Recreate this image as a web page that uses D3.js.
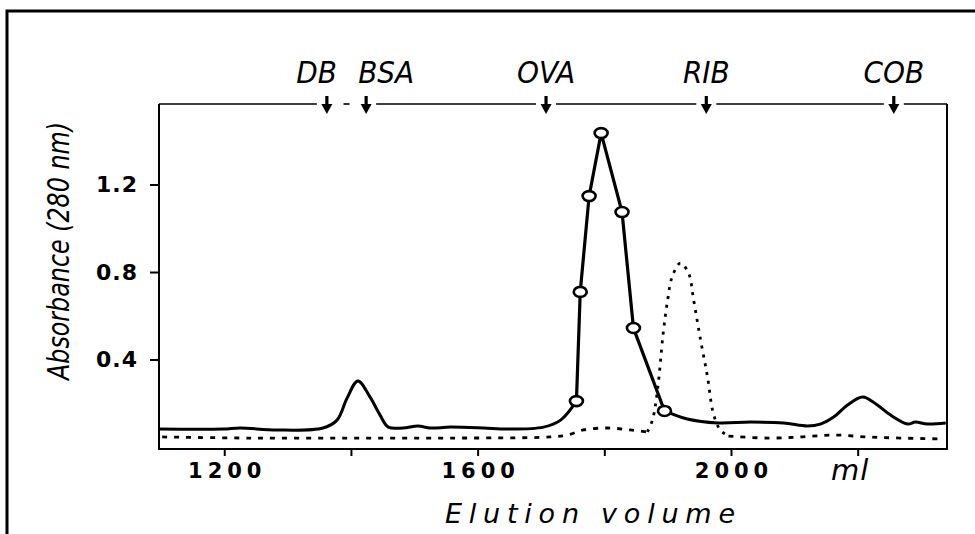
<!DOCTYPE html>
<html>
<head>
<meta charset="utf-8">
<script src="https://cdn.jsdelivr.net/npm/d3@7"></script>
<style>
  body { margin: 0; background: #fff; }
  svg { display: block; }
  .tick text { fill: #000; }
</style>
</head>
<body>
<svg width="975" height="534"></svg>
<script>
// elution volume (ml) / absorbance
const traceBeforeX = [1097, 1198, 1225, 1283, 1356, 1378, 1394, 1411, 1430, 1446, 1459, 1482, 1506, 1525, 1557, 1609, 1647, 1704, 1731, 1756]
const traceBeforeY = [0.082, 0.082, 0.087, 0.078, 0.087, 0.123, 0.224, 0.302, 0.229, 0.146, 0.091, 0.087, 0.096, 0.087, 0.091, 0.087, 0.082, 0.091, 0.123, 0.210]

const fractionX = [1756, 1762, 1776, 1795, 1828, 1846, 1895]
const fractionY = [0.210, 0.709, 1.147, 1.435, 1.074, 0.544, 0.165]

const traceAfterX = [1895, 1931, 1979, 2031, 2083, 2121, 2141, 2162, 2184, 2208, 2231, 2252, 2279, 2291, 2310, 2339]
const traceAfterY = [0.165, 0.128, 0.110, 0.114, 0.110, 0.096, 0.105, 0.137, 0.192, 0.229, 0.192, 0.146, 0.105, 0.114, 0.105, 0.110]

const dottedX = [1102, 1241, 1399, 1557, 1715, 1742, 1767, 1806, 1841, 1868, 1876, 1884, 1893, 1900, 1907, 1920, 1933, 1941, 1952, 1963, 1972, 1983, 1996, 2058, 2110, 2162, 2215, 2268, 2331]
const dottedY = [0.046, 0.041, 0.041, 0.041, 0.046, 0.055, 0.078, 0.087, 0.078, 0.069, 0.123, 0.261, 0.521, 0.672, 0.777, 0.841, 0.795, 0.672, 0.489, 0.320, 0.155, 0.078, 0.050, 0.041, 0.046, 0.055, 0.046, 0.041, 0.037]

// marker proteins
const markerNames = ['DB', 'BSA', 'OVA', 'RIB', 'COB']
const markerX = [1362, 1424, 1708, 1961, 2257]

const xTicks = [1200, 1400, 1600, 1800, 2000, 2200]
const xTickLabels = ['1200', '', '1600', '', '2000', 'ml']
const yTicks = [0.4, 0.8, 1.2]
const yTickLabels = ['0.4', '0.8', '1.2']

const zip = (xs, ys) => xs.map((v, i) => [v, ys[i]])

const svg = d3.select('svg')

const pLeft = 159, pRight = 947, pTop = 104, pBottom = 449

const x = d3.scaleLinear().domain([1097, 2341]).range([pLeft, pRight])
const y = d3.scaleLinear().domain([-0.009, 1.568]).range([pBottom, pTop])

// outer border, cut off on the right and bottom
svg.append('rect')
    .attr('x', 7).attr('y', 11)
    .attr('width', 1000).attr('height', 600)
    .attr('fill', 'none').attr('stroke', '#000').attr('stroke-width', 3)

// axes
const xAxis = svg.append('g')
    .attr('transform', `translate(0, ${pBottom})`)
    .call(d3.axisBottom(x).tickValues(xTicks).tickSize(7).tickSizeOuter(0)
        .tickFormat((d, i) => xTickLabels[i]))
xAxis.select('.domain').remove()
xAxis.selectAll('line').attr('stroke', '#000').attr('stroke-width', 2)
xAxis.selectAll('text')
    .attr('y', 14)
    .attr('dy', '0.71em')
    .style('font-family', 'DejaVu Sans')
    .style('font-weight', 'bold')
    .style('font-size', '21px')
    .style('letter-spacing', '5px')
    .attr('dx', 2.5)
xAxis.selectAll('text').filter((d, i) => xTickLabels[i] === 'ml')
    .attr('dx', -8)
    .attr('y', 10)
    .style('font-weight', 'normal')
    .style('font-style', 'italic')
    .style('font-size', '29px')
    .style('letter-spacing', '1px')

const yAxis = svg.append('g')
    .attr('transform', `translate(${pLeft}, 0)`)
    .call(d3.axisLeft(y).tickValues(yTicks).tickSize(9).tickSizeOuter(0)
        .tickFormat((d, i) => yTickLabels[i]))
yAxis.select('.domain').remove()
yAxis.selectAll('line').attr('stroke', '#000').attr('stroke-width', 2)
yAxis.selectAll('text')
    .attr('x', -21)
    .style('font-family', 'DejaVu Sans')
    .style('font-weight', 'bold')
    .style('font-size', '22px')
    .style('letter-spacing', '1px')

// frame: left, bottom, right
svg.append('path')
    .attr('d', `M${pLeft},${pTop}V${pBottom}H${pRight}V${pTop}`)
    .attr('fill', 'none').attr('stroke', '#000').attr('stroke-width', 2)

// top line broken by the marker arrows
const gap = 10
const stops = [pLeft].concat(markerX.map(x)).concat([pRight])
for (let i = 0; i < stops.length - 1; i++) {
    let a = stops[i] + (i === 0 ? 0 : gap)
    let b = stops[i + 1] - (i === stops.length - 2 ? 0 : gap)
    if (b - a < 30) {
        const m = (a + b) / 2
        a = m - 3
        b = m + 3
    }
    svg.append('line')
        .attr('x1', a).attr('x2', b).attr('y1', pTop).attr('y2', pTop)
        .attr('stroke', '#000').attr('stroke-width', 1.6)
}

const arrows = svg.append('g').selectAll('g')
    .data(markerX)
    .enter()
    .append('g')
    .attr('transform', (d) => `translate(${x(d)}, 0)`)
arrows.append('line')
    .attr('x1', 0).attr('x2', 0).attr('y1', 96).attr('y2', 106)
    .attr('stroke', '#000').attr('stroke-width', 3.2)
arrows.append('path')
    .attr('d', 'M-5.5,104L5.5,104L0,114Z')
    .attr('fill', '#000')

const labelAnchor = ['end', 'start', 'middle', 'middle', 'middle']
const labelShift = [10, -8, 0, 0, 0]
svg.append('g').selectAll('text')
    .data(markerNames)
    .enter()
    .append('text')
    .attr('x', (d, i) => x(markerX[i]) + labelShift[i])
    .attr('y', 83)
    .attr('text-anchor', (d, i) => labelAnchor[i])
    .style('font-family', 'DejaVu Sans Condensed, DejaVu Sans')
    .style('font-stretch', 'condensed')
    .style('font-style', 'italic')
    .style('font-size', '31px')
    .text((d) => d)

// traces
const smooth = d3.line().x((d) => x(d[0])).y((d) => y(d[1])).curve(d3.curveCatmullRom)
const straight = d3.line().x((d) => x(d[0])).y((d) => y(d[1]))

// reference trace: dashed along the baseline, dotted over the peak
const dotted = zip(dottedX, dottedY)
const dottedParts = [
    { pts: dotted.slice(0, 10), dash: '5,7' },
    { pts: dotted.slice(9, 23), dash: '3,6' },
    { pts: dotted.slice(22), dash: '5,7' }
]
svg.append('g').selectAll('path')
    .data(dottedParts)
    .enter()
    .append('path')
    .attr('d', (p) => smooth(p.pts))
    .attr('fill', 'none')
    .attr('stroke', '#000')
    .attr('stroke-width', 2.8)
    .attr('stroke-dasharray', (p) => p.dash)

svg.append('path')
    .datum(zip(traceBeforeX, traceBeforeY))
    .attr('d', smooth)
    .attr('fill', 'none').attr('stroke', '#000').attr('stroke-width', 3)

svg.append('path')
    .datum(zip(traceAfterX, traceAfterY))
    .attr('d', smooth)
    .attr('fill', 'none').attr('stroke', '#000').attr('stroke-width', 3)

svg.append('path')
    .datum(zip(fractionX, fractionY))
    .attr('d', straight)
    .attr('fill', 'none').attr('stroke', '#000').attr('stroke-width', 3.2)

svg.append('g').selectAll('ellipse')
    .data(zip(fractionX, fractionY))
    .enter()
    .append('ellipse')
    .attr('cx', (d) => x(d[0]))
    .attr('cy', (d) => y(d[1]))
    .attr('rx', 6.5)
    .attr('ry', 5)
    .attr('fill', '#fff')
    .attr('stroke', '#000')
    .attr('stroke-width', 2.6)

// axis titles
svg.append('text')
    .attr('transform', 'translate(69, 251) rotate(-90)')
    .attr('text-anchor', 'middle')
    .attr('textLength', 258)
    .attr('lengthAdjust', 'spacingAndGlyphs')
    .style('font-family', 'DejaVu Sans Condensed, DejaVu Sans')
    .style('font-stretch', 'condensed')
    .style('font-style', 'italic')
    .style('font-size', '30px')
    .text('Absorbance (280 nm)')

svg.append('text')
    .attr('x', 590)
    .attr('y', 523)
    .attr('text-anchor', 'middle')
    .attr('textLength', 290)
    .style('font-family', 'DejaVu Sans')
    .style('font-style', 'italic')
    .style('font-size', '27px')
    .text('Elution volume')
</script>
</body>
</html>
